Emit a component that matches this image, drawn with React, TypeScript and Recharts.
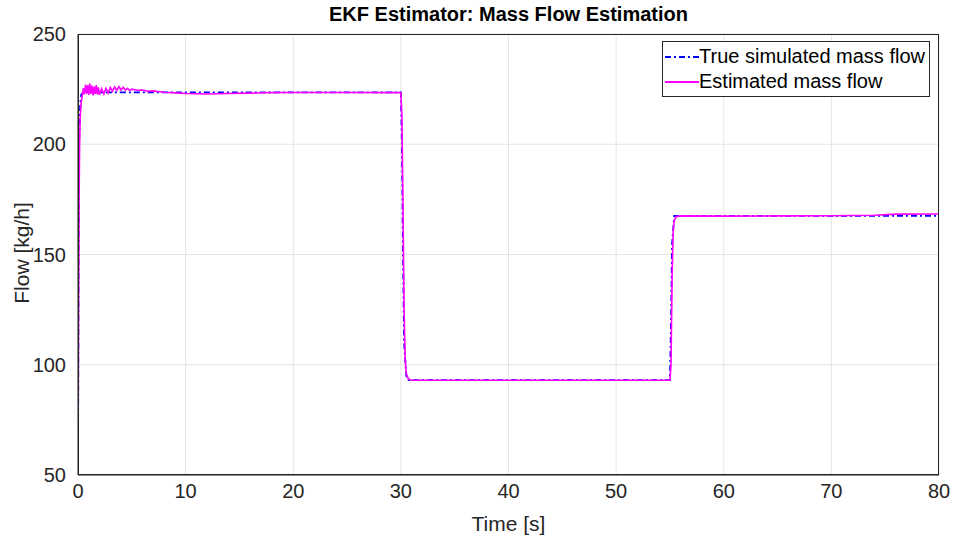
import React from "react";
import { LineChart, Line, XAxis, YAxis, CartesianGrid } from "recharts";

// true simulated mass flow (step profile)
const trueTime = [0, 0.05, 0.1, 0.2, 0.3, 0.5, 30, 30.1, 30.2, 30.3, 30.5, 30.7, 55, 55.1, 55.2, 55.4, 80];
const trueFlow = [50, 150, 200, 218, 222.5, 223.5, 223.5, 200, 150, 110, 95, 93, 93, 120, 155, 167.5, 167.5];

// EKF estimate (noisy at start-up)
const estTime = [
  0, 0.05, 0.1, 0.15, 0.2, 0.3, 0.4, 0.5, 0.6, 0.7, 0.8, 0.9, 1.0, 1.1, 1.2, 1.3, 1.4, 1.5, 1.6, 1.7,
  1.8, 1.9, 2.0, 2.2, 2.4, 2.6, 2.8, 3.0, 3.2, 3.4, 3.6, 3.8, 4.0, 4.2, 4.4, 4.6, 4.8, 5.0, 5.5, 6.0,
  6.5, 7, 8, 9, 10, 12, 14, 16, 18, 20, 25, 29.9, 30, 30.1, 30.2, 30.3, 30.4, 30.5, 30.7, 31,
  40, 55, 55.1, 55.2, 55.3, 55.4, 55.6, 56, 60, 65, 70, 74, 76, 80,
];
const estFlow = [
  50, 120, 175, 200, 212, 219, 222, 225.5, 222.6, 227, 223, 226.8, 222.4, 227.5, 222.8, 226.6, 222.2, 226.2, 222.8, 226.8,
  222.6, 225.8, 222.4, 225.2, 222.8, 225.4, 223.2, 225.8, 224, 226, 224.4, 226.2, 224.6, 225.8, 224.6, 225.4, 224.4, 225, 224.5, 224.6,
  224, 224.2, 223.6, 223.3, 223, 222.8, 223, 223.2, 223.4, 223.5, 223.5, 223.4, 223.2, 212, 170, 125, 103, 96, 93.5, 93,
  93, 93, 100, 140, 160, 165.5, 167.2, 167.5, 167.4, 167.5, 167.6, 167.8, 168.3, 168.4,
];

const xTicks = [0, 10, 20, 30, 40, 50, 60, 70, 80];
const yTicks = [50, 100, 150, 200, 250];

const trueData = trueTime.map((t, i) => ({ t, v: trueFlow[i] }));
const estData = estTime.map((t, i) => ({ t, v: estFlow[i] }));

const FONT = "'Liberation Sans', Arial, Helvetica, sans-serif";
const AXIS = "#262626";

function LegendBox() {
  return (
    <div
      style={{
        position: "absolute",
        top: 41,
        left: 662,
        width: 268,
        height: 56,
        boxSizing: "border-box",
        border: "1px solid #262626",
        background: "white",
        padding: "2px 0 0 1px",
        fontFamily: FONT,
        fontSize: 20,
        color: "#000",
        lineHeight: "25px",
      }}
    >
      <div style={{ display: "flex", alignItems: "center" }}>
        <svg width={35} height={10}>
          <line x1={1} y1={5} x2={35} y2={5} stroke="#0000ff" strokeWidth={1.8} strokeDasharray="6 3 2 3" />
        </svg>
        <span>True simulated mass flow</span>
      </div>
      <div style={{ display: "flex", alignItems: "center" }}>
        <svg width={35} height={10}>
          <line x1={1} y1={5} x2={35} y2={5} stroke="#ff00ff" strokeWidth={1.8} />
        </svg>
        <span>Estimated mass flow</span>
      </div>
    </div>
  );
}

export default function App() {
  return (
    <div style={{ position: "absolute", left: 0, top: 0, width: 953, height: 539, background: "white" }}>
      <div
        style={{
          position: "absolute",
          top: 3,
          left: 78,
          width: 861,
          textAlign: "center",
          fontFamily: FONT,
          fontWeight: "bold",
          fontSize: 20,
          color: "#000",
        }}
      >
        EKF Estimator: Mass Flow Estimation
      </div>
      <div
        style={{
          position: "absolute",
          left: 22,
          top: 253,
          transform: "translate(-50%, -50%) rotate(-90deg)",
          whiteSpace: "nowrap",
          fontFamily: FONT,
          fontSize: 21,
          color: AXIS,
        }}
      >
        Flow [kg/h]
      </div>
      <LineChart width={953} height={539} margin={{ top: 34, right: 14, bottom: 24, left: 28 }}>
        <CartesianGrid stroke="#e5e5e5" vertical horizontal />
        <XAxis
          dataKey="t"
          type="number"
          domain={[0, 80]}
          ticks={xTicks}
          allowDataOverflow
          height={40}
          stroke={AXIS}
          tickLine={false}
          tickMargin={3}
          tick={{ fill: AXIS, fontSize: 20, fontFamily: FONT }}
          label={{ value: "Time [s]", position: "insideBottom", offset: -16, fill: AXIS, fontSize: 21, fontFamily: FONT }}
        />
        <YAxis
          type="number"
          domain={[50, 250]}
          ticks={yTicks}
          allowDataOverflow
          width={50}
          stroke={AXIS}
          tickLine={false}
          tickMargin={6}
          tick={{ fill: AXIS, fontSize: 20, fontFamily: FONT }}
        />
        <Line
          data={trueData}
          dataKey="v"
          type="linear"
          stroke="#0000ff"
          strokeWidth={1.8}
          strokeDasharray="6 3 2 3"
          dot={false}
          isAnimationActive={false}
        />
        <Line
          data={estData}
          dataKey="v"
          type="linear"
          stroke="#ff00ff"
          strokeWidth={1.6}
          dot={false}
          isAnimationActive={false}
        />
      </LineChart>
      <div
        style={{
          position: "absolute",
          left: 78,
          top: 34,
          width: 861,
          height: 441,
          boxSizing: "border-box",
          border: "1px solid #262626",
          pointerEvents: "none",
        }}
      />
      <LegendBox />
    </div>
  );
}
